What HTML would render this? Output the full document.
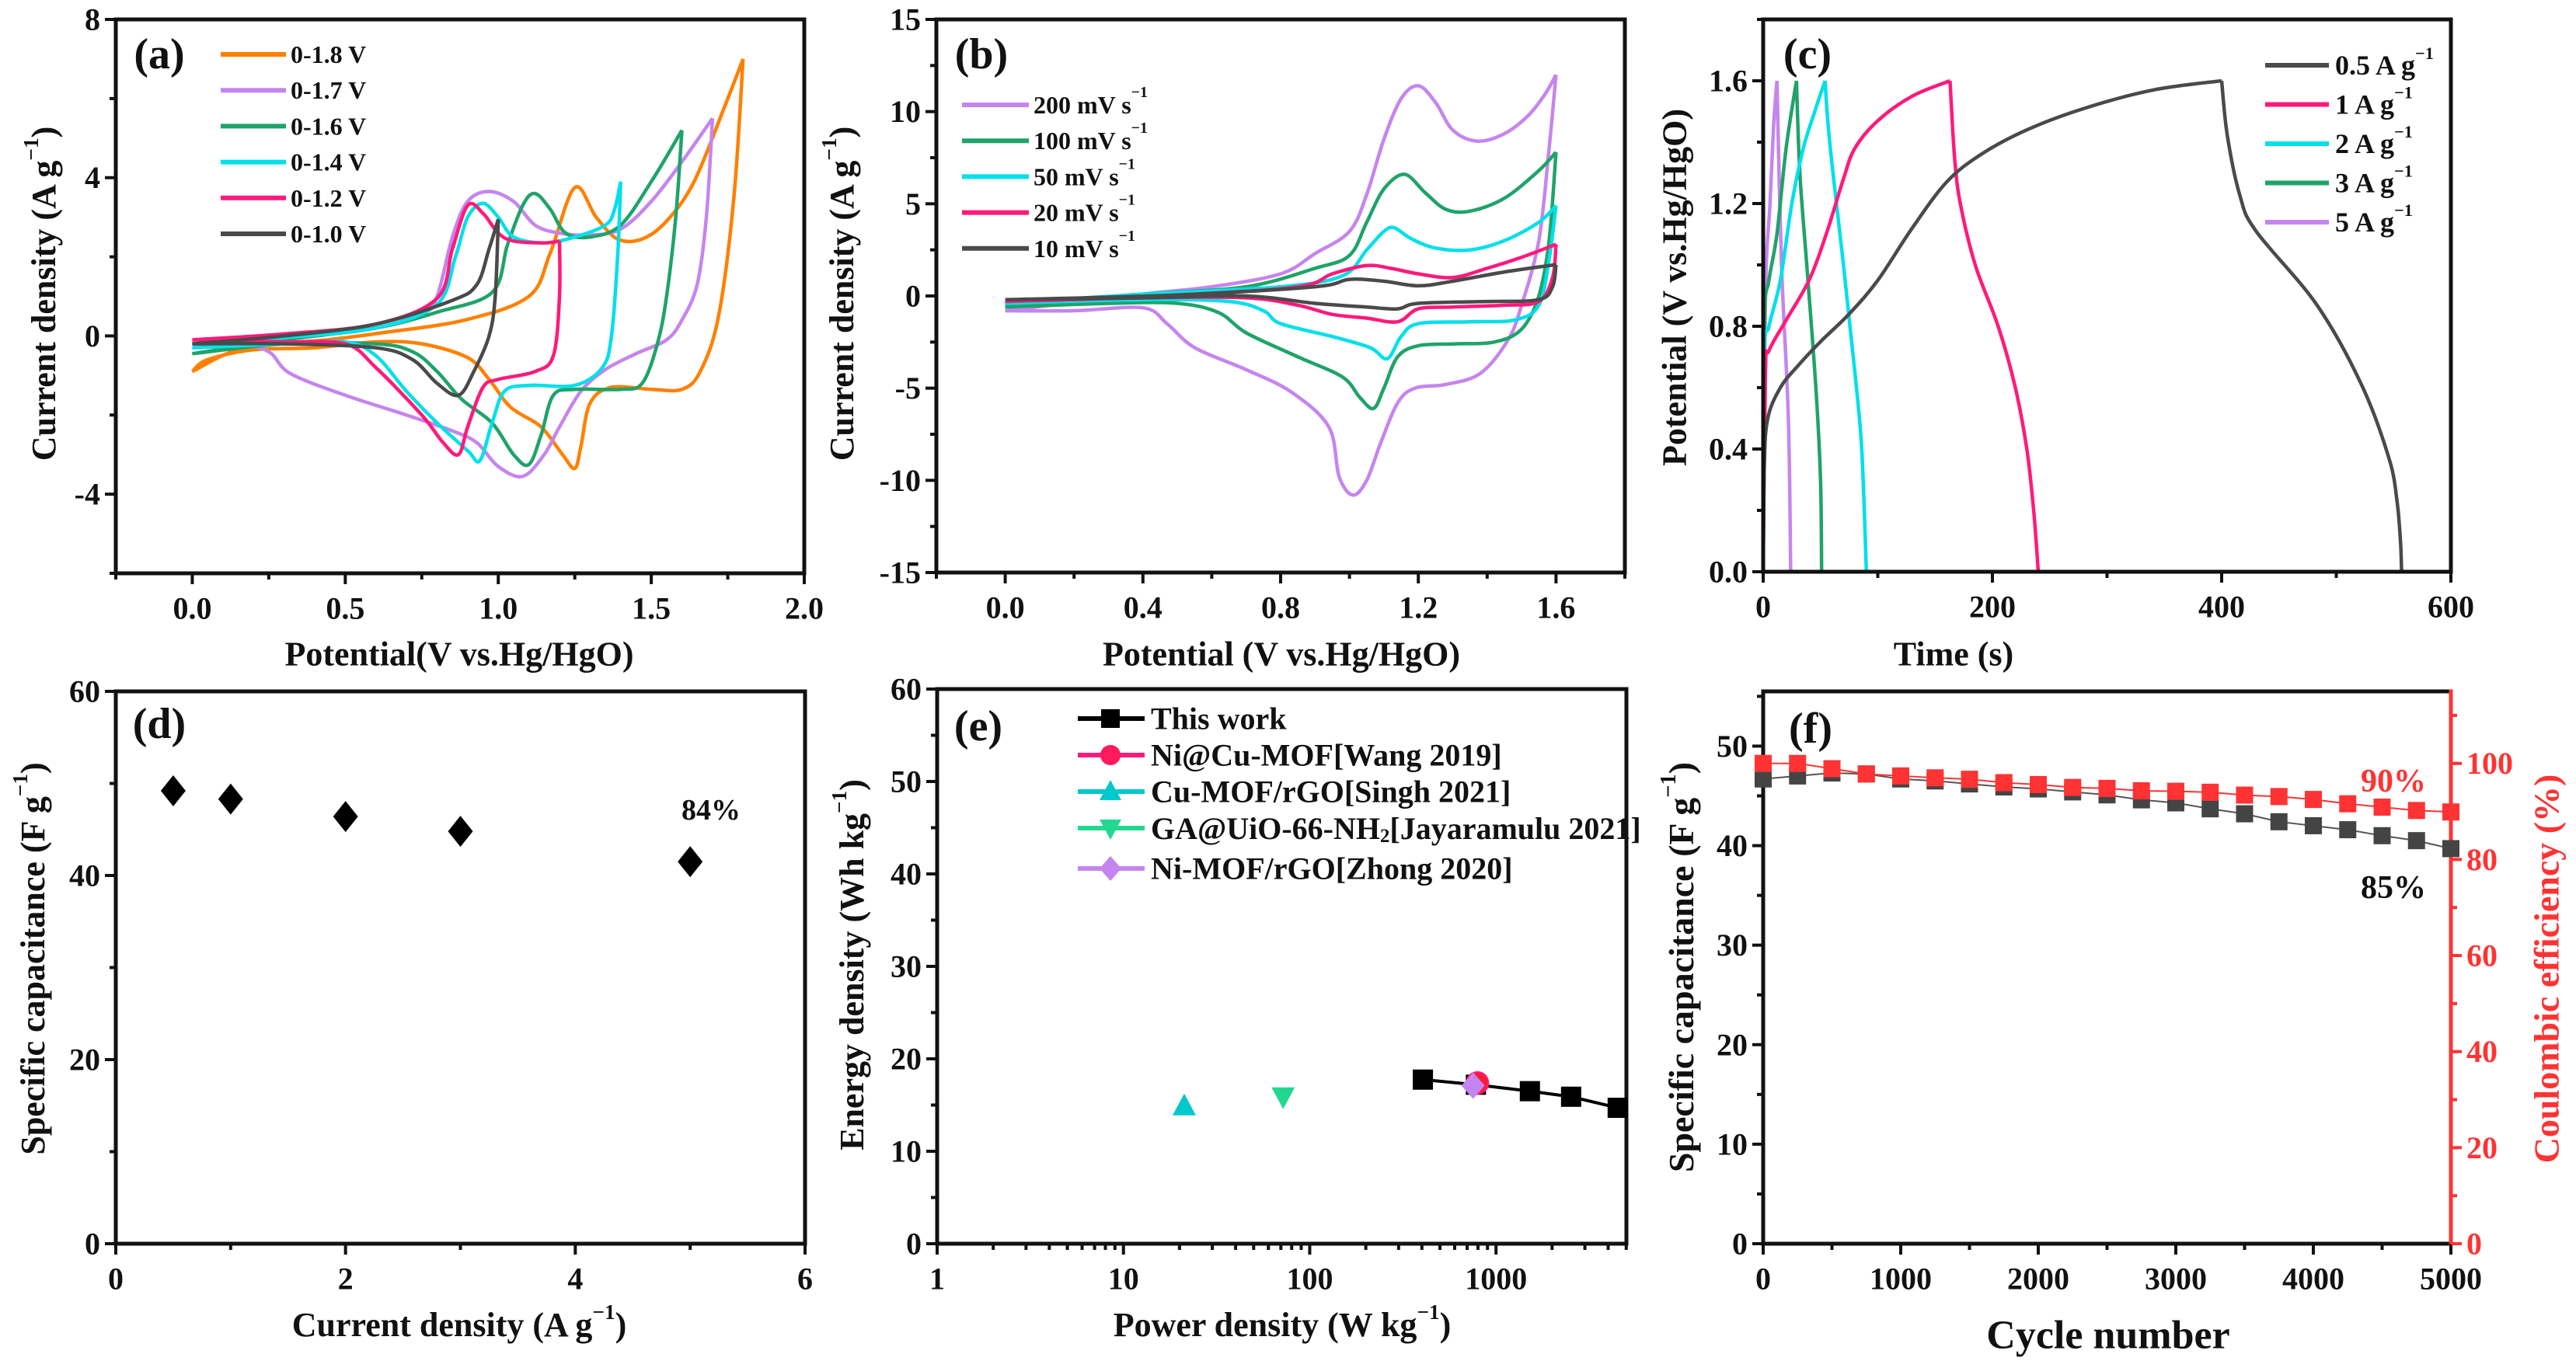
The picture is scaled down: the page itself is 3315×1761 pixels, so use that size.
<!DOCTYPE html>
<html><head><meta charset="utf-8"><title>Electrochemical performance figure</title>
<style>
html,body{margin:0;padding:0;background:#fff;}
svg{display:block;font-family:"Liberation Serif",serif;font-weight:bold;}
</style></head>
<body>
<svg id="fig" xmlns="http://www.w3.org/2000/svg" width="3315" height="1761" viewBox="0 0 3315 1761">
<rect x="0" y="0" width="3315" height="1761" fill="#fff"/>
</svg>
<script>
// ---------- Panel (a) data: CV at different potential windows ----------
const aNames = ['0-1.8 V','0-1.7 V','0-1.6 V','0-1.4 V','0-1.2 V','0-1.0 V'];
const aColors = ['#FF8000','#C585EE','#1FA36A','#00E0EA','#FF1A7A','#4A4A4A'];
const aCurve18 = [[0,-0.9],[0.17,-0.3],[0.44,-0.1],[0.62,0.08],[0.89,0.4],[1.1,1.0],[1.17,2.1],[1.25,3.75],[1.32,3.0],[1.39,2.45],[1.47,2.45],[1.55,2.9],[1.64,3.9],[1.74,5.8],[1.8,7.0],[1.77,3.5],[1.72,0.5],[1.66,-0.9],[1.6,-1.35],[1.5,-1.35],[1.37,-1.3],[1.3,-1.7],[1.27,-2.8],[1.25,-3.35],[1.21,-3.0],[1.14,-2.3],[1.04,-1.8],[0.97,-1.1],[0.9,-0.55],[0.75,-0.2],[0.6,-0.15],[0.4,-0.3],[0.2,-0.35],[0.05,-0.6],[0,-0.9]];
const aCurve17 = [[0,-0.2],[0.3,0.0],[0.6,0.2],[0.75,0.6],[0.8,1.0],[0.85,2.5],[0.9,3.4],[0.97,3.65],[1.05,3.4],[1.12,2.8],[1.2,2.6],[1.3,2.55],[1.4,2.7],[1.5,3.4],[1.6,4.4],[1.7,5.5],[1.68,3.0],[1.65,1.3],[1.6,0.4],[1.55,-0.1],[1.45,-0.45],[1.35,-0.85],[1.27,-1.4],[1.2,-2.3],[1.15,-3.0],[1.08,-3.55],[1.0,-3.3],[0.93,-2.7],[0.85,-2.4],[0.7,-2.0],[0.5,-1.5],[0.32,-0.95],[0.25,-0.4],[0.15,-0.2],[0,-0.2]];
const aCurve16 = [[0,-0.45],[0.3,-0.1],[0.6,0.2],[0.8,0.6],[0.98,1.1],[1.03,2.3],[1.08,3.3],[1.12,3.6],[1.17,3.2],[1.22,2.6],[1.3,2.5],[1.4,2.8],[1.5,3.9],[1.57,4.8],[1.6,5.2],[1.58,3.0],[1.55,1.0],[1.52,-0.2],[1.47,-1.2],[1.4,-1.35],[1.25,-1.35],[1.18,-1.5],[1.14,-2.5],[1.1,-3.25],[1.05,-3.0],[0.98,-2.2],[0.88,-1.6],[0.8,-0.9],[0.72,-0.4],[0.6,-0.2],[0.3,-0.2],[0,-0.45]];
const aCurve14 = [[0,-0.3],[0.3,-0.05],[0.6,0.2],[0.8,0.8],[0.86,2.0],[0.9,3.0],[0.95,3.35],[1.0,3.0],[1.05,2.5],[1.15,2.35],[1.25,2.5],[1.35,2.8],[1.38,3.2],[1.4,3.9],[1.39,2.0],[1.37,0.0],[1.34,-0.8],[1.25,-1.25],[1.1,-1.25],[1.02,-1.4],[0.98,-2.2],[0.94,-3.15],[0.9,-2.9],[0.8,-2.2],[0.7,-1.4],[0.6,-0.5],[0.5,-0.15],[0.3,-0.2],[0,-0.3]];
const aCurve12 = [[0,-0.1],[0.3,0.05],[0.6,0.3],[0.8,0.95],[0.85,2.2],[0.9,3.3],[0.95,3.1],[1.0,2.6],[1.05,2.4],[1.15,2.35],[1.2,2.4],[1.2,1.0],[1.18,-0.5],[1.12,-0.9],[1.0,-1.1],[0.95,-1.3],[0.9,-2.3],[0.87,-3.0],[0.82,-2.7],[0.75,-2.0],[0.6,-0.8],[0.5,-0.2],[0.3,-0.15],[0,-0.1]];
const aCurve10 = [[0,-0.2],[0.3,0.0],[0.6,0.3],[0.85,0.9],[0.93,1.3],[0.97,2.2],[1.0,2.95],[0.99,1.0],[0.97,0.0],[0.92,-0.9],[0.87,-1.5],[0.8,-1.2],[0.72,-0.6],[0.6,-0.3],[0.3,-0.2],[0,-0.2]];
const aXTickLabels = ['0.0','0.5','1.0','1.5','2.0'];
const aXTickValues = [0,0.5,1.0,1.5,2.0];
const aYTickLabels = ['8','4','0','-4'];
const aYTickValues = [8,4,0,-4];

// ---------- Panel (b) data: CV at different scan rates ----------
const bNames = ['200 mV s','100 mV s','50 mV s','20 mV s','10 mV s'];
const bColors = ['#C585EE','#1FA36A','#00E0EA','#FF1A7A','#4A4A4A'];
const bCurve200 = [[0,-0.8],[0.4,0.1],[0.6,0.5],[0.8,1.2],[0.9,2.3],[1.0,3.5],[1.05,5.5],[1.1,8.5],[1.15,10.7],[1.2,11.4],[1.25,10.5],[1.3,9.0],[1.37,8.4],[1.45,8.8],[1.52,9.8],[1.57,11],[1.6,12],[1.58,8],[1.55,3],[1.5,-0.5],[1.46,-2.4],[1.38,-4.2],[1.28,-4.8],[1.19,-5.0],[1.14,-5.8],[1.09,-8.0],[1.05,-10],[1.01,-10.8],[0.97,-9.8],[0.94,-7.1],[0.83,-5.2],[0.7,-4.0],[0.55,-2.8],[0.47,-1.5],[0.4,-0.64],[0.2,-0.8],[0,-0.8]];
const bCurve100 = [[0,-0.5],[0.4,0.1],[0.7,0.5],[0.9,1.5],[1.0,2.2],[1.05,4.0],[1.1,5.8],[1.16,6.6],[1.22,5.6],[1.28,4.7],[1.35,4.6],[1.45,5.3],[1.55,6.8],[1.6,7.8],[1.58,3],[1.55,0],[1.5,-1.8],[1.42,-2.5],[1.3,-2.6],[1.2,-2.7],[1.14,-3.3],[1.1,-5],[1.07,-6.1],[1.03,-5.5],[0.98,-4.4],[0.85,-3.3],[0.7,-2.0],[0.62,-0.9],[0.5,-0.4],[0.3,-0.4],[0,-0.6]];
const bCurve50 = [[0,-0.4],[0.4,0.1],[0.8,0.5],[0.98,1.1],[1.05,2.5],[1.1,3.5],[1.13,3.7],[1.18,3.1],[1.25,2.6],[1.35,2.5],[1.45,3.0],[1.55,4.0],[1.6,4.9],[1.58,2],[1.55,-0.5],[1.48,-1.3],[1.35,-1.4],[1.2,-1.5],[1.15,-2.2],[1.11,-3.4],[1.06,-2.8],[0.95,-2.2],[0.8,-1.5],[0.75,-0.8],[0.65,-0.3],[0.4,-0.2],[0,-0.4]];
const bCurve20 = [[0,-0.3],[0.5,0.05],[0.85,0.5],[0.95,1.2],[1.05,1.65],[1.12,1.5],[1.2,1.2],[1.3,1.0],[1.4,1.5],[1.5,2.1],[1.6,2.8],[1.59,1],[1.55,-0.3],[1.45,-0.5],[1.3,-0.6],[1.2,-0.7],[1.14,-1.4],[1.05,-1.2],[0.95,-1.0],[0.85,-0.5],[0.7,-0.1],[0.4,-0.1],[0,-0.3]];
const bCurve10 = [[0,-0.2],[0.5,0.05],[0.9,0.5],[1.0,0.9],[1.1,0.8],[1.2,0.55],[1.3,0.8],[1.45,1.3],[1.6,1.7],[1.59,0.5],[1.55,-0.2],[1.4,-0.3],[1.2,-0.4],[1.14,-0.7],[1.05,-0.6],[0.9,-0.4],[0.7,0.0],[0.4,-0.1],[0,-0.2]];
const bXTickLabels = ['0.0','0.4','0.8','1.2','1.6'];
const bXTickValues = [0,0.4,0.8,1.2,1.6];
const bYTickLabels = ['15','10','5','0','-5','-10','-15'];
const bYTickValues = [15,10,5,0,-5,-10,-15];

// ---------- Panel (c) data: GCD curves ----------
const cNames = ['0.5 A g','1 A g','2 A g','3 A g','5 A g'];
const cColors = ['#4A4A4A','#FF1A7A','#00E0EA','#1FA36A','#C585EE'];
const cCurve05 = [[0,0],[1,0.35],[4,0.5],[15,0.6],[30,0.67],[50,0.75],[75,0.84],[100,0.95],[130,1.12],[160,1.27],[190,1.36],[230,1.44],[280,1.51],[340,1.57],[400,1.6],[405,1.42],[416,1.225],[430,1.11],[483,0.87],[522,0.61],[546,0.37],[553,0.23],[556,0.1],[557,0]];
const cCurve1 = [[0,0],[2,0.65],[5,0.72],[20,0.82],[40,0.95],[55,1.1],[70,1.28],[80,1.38],[100,1.47],[130,1.55],[163,1.6],[167,1.35],[172,1.2],[185,1.0],[205,0.8],[220,0.6],[230,0.4],[236,0.2],[240,0]];
const cCurve2 = [[0,0],[1,0.7],[5,0.8],[15,0.95],[25,1.2],[35,1.38],[45,1.5],[54,1.6],[58,1.4],[70,1.0],[80,0.65],[86,0.4],[90,0]];
const cCurve3 = [[0,0],[1,0.8],[5,0.95],[12,1.1],[20,1.38],[29,1.6],[32,1.3],[38,1.0],[46,0.6],[50,0.3],[51,0]];
const cCurve5 = [[0,0],[2,0.9],[6,1.2],[9,1.45],[12,1.6],[16,1.0],[22,0.5],[24,0]];
const cXTickLabels = ['0','200','400','600'];
const cXTickValues = [0,200,400,600];
const cYTickLabels = ['0.0','0.4','0.8','1.2','1.6'];
const cYTickValues = [0,0.4,0.8,1.2,1.6];

// ---------- Panel (d) data: specific capacitance ----------
const dCurrent = [0.5,1,2,3,5];
const dCapacitance = [49.2,48.3,46.4,44.8,41.5];
const dXTickLabels = ['0','2','4','6'];
const dXTickValues = [0,2,4,6];
const dYTickLabels = ['0','20','40','60'];
const dYTickValues = [0,20,40,60];

// ---------- Panel (e) data: Ragone plot ----------
const eThisPower = [405,780,1520,2530,4500];
const eThisEnergy = [17.75,17.2,16.5,15.9,14.7];
const eNiCuPower = [795]; const eNiCuEnergy = [17.4];
const eCuRgoPower = [21.2]; const eCuRgoEnergy = [14.9];
const eGaPower = [72]; const eGaEnergy = [15.9];
const eNiRgoPower = [753]; const eNiRgoEnergy = [17.1];
const eXTickLabels = ['1','10','100','1000'];
const eXTickValues = [1,10,100,1000];
const eYTickLabels = ['0','10','20','30','40','50','60'];
const eYTickValues = [0,10,20,30,40,50,60];

// ---------- Panel (f) data: cycling stability ----------
const fCycles = [0,250,500,750,1000,1250,1500,1750,2000,2250,2500,2750,3000,3250,3500,3750,4000,4250,4500,4750,5000];
const fCapacitance = [46.7,47.0,47.3,47.2,46.7,46.5,46.2,45.9,45.7,45.4,45.1,44.6,44.3,43.7,43.2,42.4,42.0,41.6,41.0,40.5,39.7];
const fEfficiency = [100,100,98.9,97.8,97.4,97.0,96.7,96.0,95.6,95.0,94.8,94.3,94.2,94.0,93.4,93.1,92.5,91.6,90.9,90.2,89.9];
const fXTickLabels = ['0','1000','2000','3000','4000','5000'];
const fXTickValues = [0,1000,2000,3000,4000,5000];
const fYTickLabels = ['0','10','20','30','40','50'];
const fYTickValues = [0,10,20,30,40,50];
const fY2TickLabels = ['0','20','40','60','80','100'];
const fY2TickValues = [0,20,40,60,80,100];

// ================= drawing =================
const NS = 'http://www.w3.org/2000/svg';
const svg = document.getElementById('fig');
function mk(tag, attrs, parent) {
  const el = document.createElementNS(NS, tag);
  for (const k in attrs) el.setAttribute(k, attrs[k]);
  (parent || svg).appendChild(el);
  return el;
}
function lin(d0, d1, p0, p1) { return v => p0 + (v - d0) * (p1 - p0) / (d1 - d0); }
function logS(d0, d1, p0, p1) { return v => p0 + (Math.log10(v) - Math.log10(d0)) * (p1 - p0) / (Math.log10(d1) - Math.log10(d0)); }
function smoothPath(pts) {
  let d = 'M' + pts[0][0].toFixed(1) + ',' + pts[0][1].toFixed(1);
  for (let i = 0; i < pts.length - 1; i++) {
    const p0 = pts[i - 1] || pts[i], p1 = pts[i], p2 = pts[i + 1], p3 = pts[i + 2] || pts[i + 1];
    const c1x = p1[0] + (p2[0] - p0[0]) / 6, c1y = p1[1] + (p2[1] - p0[1]) / 6;
    const c2x = p2[0] - (p3[0] - p1[0]) / 6, c2y = p2[1] - (p3[1] - p1[1]) / 6;
    d += 'C' + c1x.toFixed(1) + ',' + c1y.toFixed(1) + ' ' + c2x.toFixed(1) + ',' + c2y.toFixed(1) + ' ' + p2[0].toFixed(1) + ',' + p2[1].toFixed(1);
  }
  return d;
}
function drawLoop(g, data, sx, sy, color, name) {
  let k = 0;
  for (let i = 0; i < data.length; i++) if (data[i][0] > data[k][0]) k = i;
  const pts = data.map(p => [sx(p[0]), sy(p[1])]);
  const d = smoothPath(pts.slice(0, k + 1)) + ' ' + smoothPath(pts.slice(k));
  const el = mk('path', {d: d, fill: 'none', stroke: color, 'stroke-width': 4.5, 'stroke-linejoin': 'round'}, g);
  
  
  return el;
}
function text(g, x, y, str, opts, name) {
  const o = Object.assign({size: 40, anchor: 'middle', fill: '#111'}, opts || {});
  const el = mk('text', {x: x, y: y, 'font-size': o.size, 'text-anchor': o.anchor, fill: o.fill, 'dominant-baseline': 'central'}, g);
  if (o.rot) el.setAttribute('transform', 'rotate(-90 ' + x + ' ' + y + ')');
  el.textContent = str;
  
  
  return el;
}
function addSup(el, base, sup, after) {
  el.textContent = '';
  const t1 = mk('tspan', {}, el); t1.textContent = base;
  const t2 = mk('tspan', {dy: -16, 'font-size': '0.62em'}, el); t2.textContent = sup;
  const t3 = mk('tspan', {dy: 16}, el); t3.textContent = after;
}
function frame(g, L, R, T, B, name, rightColor) {
  const f = mk('path', {d: `M${L},${T}H${R}M${L},${T}V${B}H${R}`, fill: 'none', stroke: '#111', 'stroke-width': 5, 'stroke-linecap': 'square'}, g);
  
  
  const r = mk('line', {x1: R, y1: T, x2: R, y2: B, stroke: rightColor || '#111', 'stroke-width': 5, 'stroke-linecap': 'square'}, g);
  
  
}
function xTicks(g, sx, B, majors, minors, labels, name, size) {
  majors.forEach((v, i) => {
    const l = mk('line', {x1: sx(v), y1: B, x2: sx(v), y2: B + 14, stroke: '#111', 'stroke-width': 4}, g);
    
    
    if (labels[i] !== undefined) text(g, sx(v), B + 45, labels[i], {size: size || 40}, name + '-label');
  });
  minors.forEach(v => {
    const l = mk('line', {x1: sx(v), y1: B, x2: sx(v), y2: B + 8, stroke: '#111', 'stroke-width': 4}, g);
    
    
  });
}
function yTicks(g, sy, L, majors, minors, labels, name, side, color) {
  const dir = side === 'right' ? 1 : -1;
  const c = color || '#111';
  majors.forEach((v, i) => {
    const l = mk('line', {x1: L, y1: sy(v), x2: L + dir * 14, y2: sy(v), stroke: c, 'stroke-width': 4}, g);
    
    
    text(g, L + dir * 20, sy(v), labels[i], {size: 40, anchor: side === 'right' ? 'start' : 'end', fill: color || '#111'}, name + '-label');
  });
  minors.forEach(v => {
    const l = mk('line', {x1: L, y1: sy(v), x2: L + dir * 8, y2: sy(v), stroke: c, 'stroke-width': 4}, g);
    
    
  });
}
function range(a, b, s) { const r = []; for (let v = a; v <= b + 1e-9; v += s) r.push(+v.toFixed(6)); return r; }
function group(name) {
  const g = mk('g', {});
  
  
  return g;
}
function legendLine(g, x1, x2, y, color, name) {
  const l = mk('line', {x1: x1, y1: y, x2: x2, y2: y, stroke: color, 'stroke-width': 6}, g);
  
  
}

// ----- Panel a -----
(function () {
  const g = group('panel-a-cv-windows');
  const L = 149, R = 1035, T = 25, B = 738;
  const sx = lin(-0.25, 2.0, L, R), sy = lin(-6, 8, B, T);
  const curves = [aCurve18, aCurve17, aCurve16, aCurve14, aCurve12, aCurve10];
  curves.forEach((c, i) => drawLoop(g, c, sx, sy, aColors[i], 'cv-curve-' + aNames[i].replace(/[ .]/g, '')));
  frame(g, L, R, T, B, 'panel-a-frame');
  xTicks(g, sx, B, aXTickValues, range(-0.25, 1.75, 0.5), aXTickLabels, 'a-x');
  yTicks(g, sy, L, aYTickValues, [6, 2, -2, -6], aYTickLabels, 'a-y');
  text(g, 205, 70, '(a)', {size: 56}, 'panel-a-label');
  aNames.forEach((n, i) => {
    const y = 70 + i * 46.2;
    legendLine(g, 284, 368, y, aColors[i], 'legend-a-line');
    text(g, 374, y, n, {size: 32, anchor: 'start'}, 'legend-a-entry');
  });
  text(g, 591, 842, 'Potential(V vs.Hg/HgO)', {size: 44}, 'a-x-axis-title');
  const yt = text(g, 56, 378, '', {size: 44, rot: true}, 'a-y-axis-title');
  addSup(yt, 'Current density (A g', '−1', ')');
})();

// ----- Panel b -----
(function () {
  const g = group('panel-b-cv-scanrates');
  const L = 1205, R = 2091, T = 25, B = 737;
  const sx = lin(-0.2, 1.8, L, R), sy = lin(-15, 15, B, T);
  const curves = [bCurve200, bCurve100, bCurve50, bCurve20, bCurve10];
  curves.forEach((c, i) => drawLoop(g, c, sx, sy, bColors[i], 'cv-curve-' + bNames[i].replace(/ /g, '')));
  frame(g, L, R, T, B, 'panel-b-frame');
  xTicks(g, sx, B, bXTickValues, range(-0.2, 1.8, 0.4), bXTickLabels, 'b-x');
  yTicks(g, sy, L, bYTickValues, range(-12.5, 12.5, 5), bYTickLabels, 'b-y');
  text(g, 1263, 70, '(b)', {size: 56}, 'panel-b-label');
  bNames.forEach((n, i) => {
    const y = 135 + i * 46.2;
    legendLine(g, 1238, 1324, y, bColors[i], 'legend-b-line');
    const t = text(g, 1330, y, '', {size: 32, anchor: 'start'}, 'legend-b-entry');
    addSup(t, n, '−1', '');
  });
  text(g, 1649, 842, 'Potential (V vs.Hg/HgO)', {size: 44}, 'b-x-axis-title');
  const yt = text(g, 1083, 378, '', {size: 44, rot: true}, 'b-y-axis-title');
  addSup(yt, 'Current density (A g', '−1', ')');
})();

// ----- Panel c -----
(function () {
  const g = group('panel-c-gcd');
  const L = 2269, R = 3154, T = 25, B = 736;
  const sx = lin(0, 600, L, R), sy = lin(0, 1.8, B, T);
  const curves = [cCurve05, cCurve1, cCurve2, cCurve3, cCurve5];
  for (let i = curves.length - 1; i >= 0; i--) {
    const data = curves[i];
    let k = 0;
    for (let j = 0; j < data.length; j++) if (data[j][1] > data[k][1]) k = j;
    const pts = data.map(p => [sx(p[0]), sy(p[1])]);
    const el = mk('path', {d: smoothPath(pts.slice(0, k + 1)) + ' ' + smoothPath(pts.slice(k)), fill: 'none', stroke: cColors[i], 'stroke-width': 4.5, 'stroke-linejoin': 'round'}, g);
    
    
  }
  frame(g, L, R, T, B, 'panel-c-frame');
  xTicks(g, sx, B, cXTickValues, [100, 300, 500], cXTickLabels, 'c-x');
  yTicks(g, sy, L, cYTickValues, range(0.2, 1.8, 0.4), cYTickLabels, 'c-y');
  text(g, 2326, 70, '(c)', {size: 56}, 'panel-c-label');
  cNames.forEach((n, i) => {
    const y = 84 + i * 50.5;
    legendLine(g, 2915, 2997, y, cColors[i], 'legend-c-line');
    const t = text(g, 3005, y, '', {size: 36, anchor: 'start'}, 'legend-c-entry');
    addSup(t, n, '−1', '');
  });
  text(g, 2514, 842, 'Time (s)', {size: 44}, 'c-x-axis-title');
  text(g, 2155, 370, 'Potential (V vs.Hg/HgO)', {size: 44, rot: true}, 'c-y-axis-title');
})();

// ----- Panel d -----
(function () {
  const g = group('panel-d-capacitance');
  const L = 149, R = 1036, T = 890, B = 1601;
  const sx = lin(0, 6, L, R), sy = lin(0, 60, B, T);
  frame(g, L, R, T, B, 'panel-d-frame');
  xTicks(g, sx, B, dXTickValues, [1, 3, 5], dXTickLabels, 'd-x');
  yTicks(g, sy, L, dYTickValues, [10, 30, 50], dYTickLabels, 'd-y');
  dCurrent.forEach((c, i) => {
    const x = sx(c), y = sy(dCapacitance[i]);
    const p = mk('path', {d: `M${x},${y - 20}L${x + 16},${y}L${x},${y + 20}L${x - 16},${y}Z`, fill: '#000'}, g);
    
    
  });
  text(g, 915, 1043, '84%', {size: 38}, 'retention-label');
  text(g, 205, 932, '(d)', {size: 56}, 'panel-d-label');
  const xt = text(g, 591, 1705, '', {size: 44}, 'd-x-axis-title');
  addSup(xt, 'Current density (A g', '−1', ')');
  const yt = text(g, 42, 1234, '', {size: 44, rot: true}, 'd-y-axis-title');
  addSup(yt, 'Specific capacitance (F g', '−1', ')');
})();

// ----- Panel e -----
(function () {
  const g = group('panel-e-ragone');
  const L = 1206, R = 2093, T = 887, B = 1601;
  const sx = logS(1, Math.pow(10, 3.7), L, R), sy = lin(0, 60, B, T);
  frame(g, L, R, T, B, 'panel-e-frame');
  const minors = [];
  [1, 10, 100, 1000].forEach(d => { for (let m = 2; m <= 9; m++) if (d * m <= 5000) minors.push(d * m); });
  xTicks(g, sx, B, eXTickValues, minors, eXTickLabels, 'e-x');
  yTicks(g, sy, L, eYTickValues, [5, 15, 25, 35, 45, 55], eYTickLabels, 'e-y');
  // this work line
  const line = mk('polyline', {points: eThisPower.map((p, i) => sx(p) + ',' + sy(eThisEnergy[i])).join(' '), fill: 'none', stroke: '#000', 'stroke-width': 4}, g);
  
  
  eThisPower.forEach((p, i) => {
    const r = mk('rect', {x: sx(p) - 13, y: sy(eThisEnergy[i]) - 13, width: 26, height: 26, fill: '#000'}, g);
    
    
  });
  eNiCuPower.forEach((p, i) => {
    const c = mk('circle', {cx: sx(p), cy: sy(eNiCuEnergy[i]), r: 14, fill: '#FF1A3A', stroke: '#FF1A7A', 'stroke-width': 2}, g);
    
    
  });
  eNiRgoPower.forEach((p, i) => {
    const x = sx(p), y = sy(eNiRgoEnergy[i]);
    const d = mk('path', {d: `M${x},${y - 17}L${x + 15},${y}L${x},${y + 17}L${x - 15},${y}Z`, fill: '#C585EE'}, g);
    
    
  });
  eCuRgoPower.forEach((p, i) => {
    const x = sx(p), y = sy(eCuRgoEnergy[i]);
    const t = mk('path', {d: `M${x},${y - 16}L${x + 15},${y + 12}L${x - 15},${y + 12}Z`, fill: '#00C8CC'}, g);
    
    
  });
  eGaPower.forEach((p, i) => {
    const x = sx(p), y = sy(eGaEnergy[i]);
    const t = mk('path', {d: `M${x - 15},${y - 12}L${x + 15},${y - 12}L${x},${y + 16}Z`, fill: '#22D890'}, g);
    
    
  });
  text(g, 1259, 935, '(e)', {size: 56}, 'panel-e-label');
  const legNames = ['This work', 'Ni@Cu-MOF[Wang 2019]', 'Cu-MOF/rGO[Singh 2021]', '', 'Ni-MOF/rGO[Zhong 2020]'];
  const legColors = ['#000', '#FF1A7A', '#00C8CC', '#22D890', '#C585EE'];
  const legY = [925, 972, 1019, 1066, 1118];
  legY.forEach((y, i) => {
    legendLine(g, 1387, 1473, y, legColors[i], 'legend-e-line');
    let m;
    if (i === 0) m = mk('rect', {x: 1417, y: y - 12, width: 24, height: 24, fill: '#000'}, g);
    else if (i === 1) m = mk('circle', {cx: 1429, cy: y, r: 13, fill: '#FF1A5A'}, g);
    else if (i === 2) m = mk('path', {d: `M1429,${y - 15}L1443,${y + 11}L1415,${y + 11}Z`, fill: '#00C8CC'}, g);
    else if (i === 3) m = mk('path', {d: `M1415,${y - 11}L1443,${y - 11}L1429,${y + 15}Z`, fill: '#22D890'}, g);
    else m = mk('path', {d: `M1429,${y - 16}L1443,${y}L1429,${y + 16}L1415,${y}Z`, fill: '#C585EE'}, g);
    
    
    const t = text(g, 1481, y, legNames[i], {size: 40, anchor: 'start'}, 'legend-e-entry');
    if (i === 3) {
      t.textContent = '';
      const a = mk('tspan', {}, t); a.textContent = 'GA@UiO-66-NH';
      const b = mk('tspan', {dy: 10, 'font-size': '0.62em'}, t); b.textContent = '2';
      const c = mk('tspan', {dy: -10}, t); c.textContent = '[Jayaramulu 2021]';
    }
  });
  const xt = text(g, 1650, 1705, '', {size: 44}, 'e-x-axis-title');
  addSup(xt, 'Power density (W kg', '−1', ')');
  const yt = text(g, 1096, 1242, '', {size: 44, rot: true}, 'e-y-axis-title');
  addSup(yt, 'Energy density (Wh kg', '−1', ')');
})();

// ----- Panel f -----
(function () {
  const g = group('panel-f-cycling');
  const L = 2269, R = 3154, T = 890, B = 1601;
  const sx = lin(0, 5000, L, R), sy = lin(0, 55.5, B, T), sy2 = lin(0, 115, B, T);
  const red = '#FF3333';
  frame(g, L, R, T, B, 'panel-f-frame', red);
  xTicks(g, sx, B, fXTickValues, range(500, 4500, 1000), fXTickLabels, 'f-x');
  yTicks(g, sy, L, fYTickValues, range(5, 55, 10), fYTickLabels, 'f-y');
  yTicks(g, sy2, R, fY2TickValues, range(10, 110, 20), fY2TickLabels, 'f-y2', 'right', red);
  const l1 = mk('polyline', {points: fCycles.map((c, i) => sx(c) + ',' + sy(fCapacitance[i])).join(' '), fill: 'none', stroke: '#555', 'stroke-width': 2}, g);
  
  
  fCycles.forEach((c, i) => {
    const r = mk('rect', {x: sx(c) - 11, y: sy(fCapacitance[i]) - 11, width: 22, height: 22, fill: '#444'}, g);
    
    
  });
  const l2 = mk('polyline', {points: fCycles.map((c, i) => sx(c) + ',' + sy2(fEfficiency[i])).join(' '), fill: 'none', stroke: red, 'stroke-width': 2}, g);
  
  
  fCycles.forEach((c, i) => {
    const r = mk('rect', {x: sx(c) - 11, y: sy2(fEfficiency[i]) - 11, width: 22, height: 22, fill: red}, g);
    
    
  });
  text(g, 3080, 1006, '90%', {size: 42, fill: red}, 'efficiency-retention-label');
  text(g, 3080, 1143, '85%', {size: 42}, 'capacitance-retention-label');
  text(g, 2330, 938, '(f)', {size: 56}, 'panel-f-label');
  text(g, 2713, 1719, 'Cycle number', {size: 52}, 'f-x-axis-title');
  const yt = text(g, 2163, 1245, '', {size: 46, rot: true}, 'f-y-axis-title');
  addSup(yt, 'Specific capacitance (F g', '−1', ')');
  text(g, 3277, 1247, 'Coulombic efficiency (%)', {size: 46, rot: true, fill: red}, 'f-y2-axis-title');
})();
</script>
</body></html>
